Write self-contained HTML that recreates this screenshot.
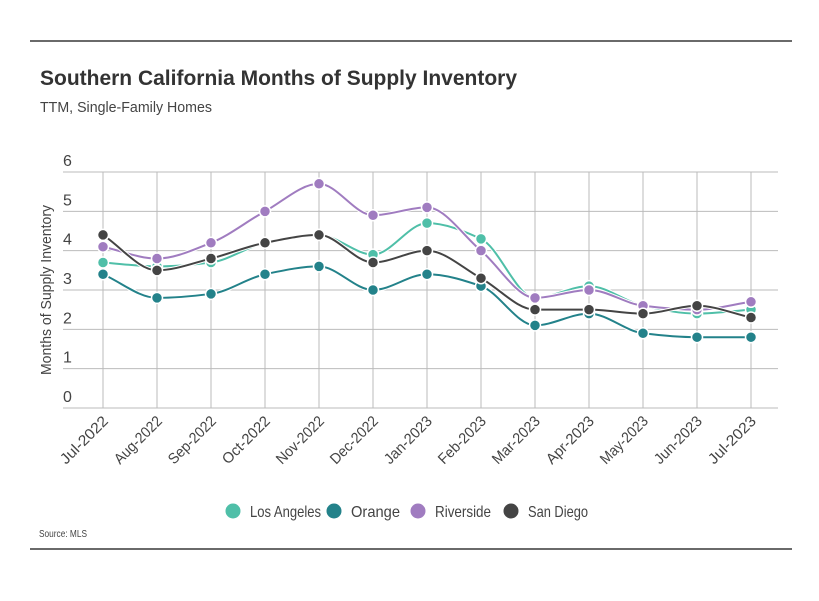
<!DOCTYPE html>
<html><head><meta charset="utf-8"><style>
body{margin:0;background:#fff;}
svg text{font-family:"Liberation Sans Narrow","Liberation Sans",sans-serif;}
</style></head><body>
<svg width="819" height="596" viewBox="0 0 819 596" xmlns="http://www.w3.org/2000/svg">
<line x1="30" y1="41" x2="792" y2="41" stroke="#111" stroke-width="1.3"/>
<line x1="30" y1="549" x2="792" y2="549" stroke="#111" stroke-width="1.3"/>
<text x="40" y="85" font-size="21" font-weight="bold" fill="#333" textLength="477" lengthAdjust="spacingAndGlyphs">Southern California Months of Supply Inventory</text>
<text x="40" y="112" font-size="15" fill="#444" textLength="172" lengthAdjust="spacingAndGlyphs">TTM, Single-Family Homes</text>
<text transform="translate(51,290) rotate(-90)" text-anchor="middle" font-size="15" fill="#444" textLength="170" lengthAdjust="spacingAndGlyphs">Months of Supply Inventory</text>
<g id="grid"></g><g id="series"></g><g id="xlabels"></g>
<g font-size="16" fill="#444">
<circle cx="233" cy="511" r="7.5" fill="#4fbfa8"/><text x="250" y="517" textLength="71" lengthAdjust="spacingAndGlyphs">Los Angeles</text>
<circle cx="334" cy="511" r="7.5" fill="#23828a"/><text x="351" y="517" textLength="49" lengthAdjust="spacingAndGlyphs">Orange</text>
<circle cx="418" cy="511" r="7.5" fill="#a07cc0"/><text x="435" y="517" textLength="56" lengthAdjust="spacingAndGlyphs">Riverside</text>
<circle cx="511" cy="511" r="7.5" fill="#444"/><text x="528" y="517" textLength="60" lengthAdjust="spacingAndGlyphs">San Diego</text>
</g>
<text x="39" y="537" font-size="10" fill="#444" textLength="48" lengthAdjust="spacingAndGlyphs">Source:  MLS</text>
</svg>
<script>
const categories=["Jul-2022","Aug-2022","Sep-2022","Oct-2022","Nov-2022","Dec-2022","Jan-2023","Feb-2023","Mar-2023","Apr-2023","May-2023","Jun-2023","Jul-2023"];
const yTicks=[0,1,2,3,4,5,6];
const losAngeles=[3.7,3.6,3.7,4.2,4.4,3.9,4.7,4.3,2.8,3.1,2.6,2.4,2.5];
const orange=[3.4,2.8,2.9,3.4,3.6,3.0,3.4,3.1,2.1,2.4,1.9,1.8,1.8];
const riverside=[4.1,3.8,4.2,5.0,5.7,4.9,5.1,4.0,2.8,3.0,2.6,2.5,2.7];
const sanDiego=[4.4,3.5,3.8,4.2,4.4,3.7,4.0,3.3,2.5,2.5,2.4,2.6,2.3];
const NS="http://www.w3.org/2000/svg";
const x=i=>103+i*54;
const y=v=>408-v*(236/6);
function mk(t,a,p){const e=document.createElementNS(NS,t);for(const k in a)e.setAttribute(k,a[k]);p.appendChild(e);return e;}
const grid=document.getElementById('grid');
yTicks.forEach(t=>{
  const l=mk('line',{x1:63,x2:778,y1:y(t),y2:y(t),stroke:'#bbb','stroke-width':1},grid);
  
  
  const tx=mk('text',{x:63,y:y(t)-6,'font-size':16,fill:'#444'},grid);tx.textContent=t;
  
  
});
const xl=document.getElementById('xlabels');
categories.forEach((c,i)=>{
  const l=mk('line',{x1:x(i),x2:x(i),y1:y(6),y2:y(0),stroke:'#bbb','stroke-width':1},grid);
  
  
  const t=mk('text',{transform:`translate(${x(i)+6},${y(0)+14}) rotate(-45)`,'text-anchor':'end','font-size':15,fill:'#444',textLength:c.length*7.6,lengthAdjust:'spacingAndGlyphs'},xl);
  t.textContent=c;
  
  
});
function monotone(pts){
  const n=pts.length,d=[],m=[];
  for(let i=0;i<n-1;i++)d.push((pts[i+1][1]-pts[i][1])/(pts[i+1][0]-pts[i][0]));
  m[0]=d[0];m[n-1]=d[n-2];
  for(let i=1;i<n-1;i++)m[i]=(d[i-1]*d[i]<=0)?0:2/(1/d[i-1]+1/d[i]);
  let s=`M${pts[0][0]},${pts[0][1]}`;
  for(let i=0;i<n-1;i++){const h=(pts[i+1][0]-pts[i][0])/3;
    s+=`C${pts[i][0]+h},${pts[i][1]+m[i]*h} ${pts[i+1][0]-h},${pts[i+1][1]-m[i+1]*h} ${pts[i+1][0]},${pts[i+1][1]}`;}
  return s;
}
const sg=document.getElementById('series');
[[orange,'#23828a','orange'],[losAngeles,'#4fbfa8','los-angeles'],[riverside,'#a07cc0','riverside'],[sanDiego,'#444','san-diego']].forEach(([vals,col,name])=>{
  const g=mk('g',{},sg);
  
  
  const pts=vals.map((v,i)=>[x(i),y(v)]);
  mk('path',{d:monotone(pts),fill:'none',stroke:'#fff','stroke-width':4},g);
  const p=mk('path',{d:monotone(pts),fill:'none',stroke:col,'stroke-width':2},g);
  
  
  pts.forEach(pt=>{
    const c=mk('circle',{cx:pt[0],cy:pt[1],r:5.5,fill:col,stroke:'#fff','stroke-width':1.5},g);
    
    
  });
});
</script>
</body></html>
